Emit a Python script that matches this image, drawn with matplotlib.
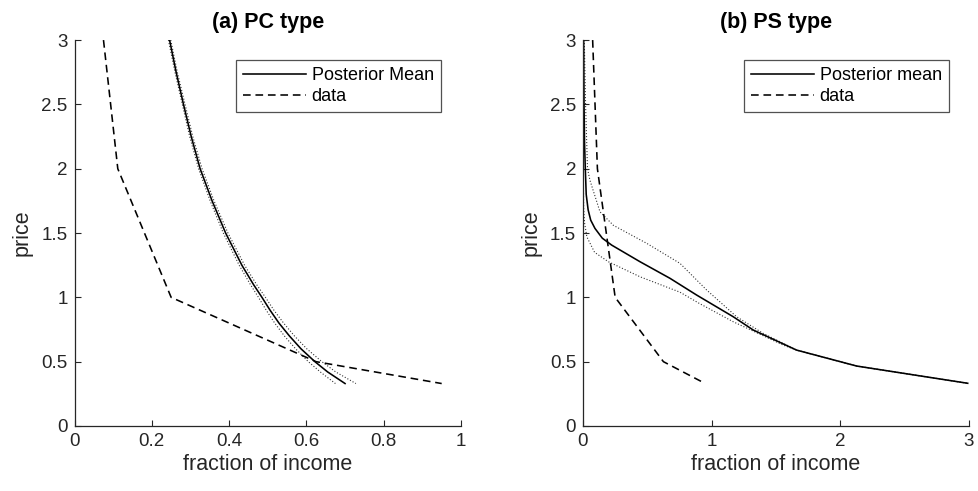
import matplotlib
matplotlib.use("Agg")
import matplotlib.pyplot as plt

plt.rcParams['font.family'] = ['Liberation Sans', 'DejaVu Sans']

# ---- data: panel (a) PC type ----
pc_price = [3.0, 2.75, 2.5, 2.25, 2.0, 1.75, 1.5, 1.25, 1.1, 1.0, 0.9, 0.8, 0.7, 0.6, 0.5, 0.42, 0.33]
pc_mean = [0.246, 0.263, 0.282, 0.302, 0.325, 0.356, 0.391, 0.433, 0.463, 0.485,
           0.506, 0.529, 0.556, 0.586, 0.622, 0.655, 0.700]
pc_lower = [0.243, 0.260, 0.279, 0.298, 0.321, 0.351, 0.385, 0.426, 0.455, 0.476,
            0.496, 0.518, 0.543, 0.572, 0.605, 0.636, 0.675]
pc_upper = [0.249, 0.266, 0.286, 0.306, 0.330, 0.361, 0.397, 0.440, 0.471, 0.494,
            0.516, 0.541, 0.569, 0.601, 0.640, 0.676, 0.728]

# ---- data: observed demand (same in both panels) ----
data_price = [3.0, 2.0, 1.0, 0.5, 0.33]
data_frac = [0.075, 0.112, 0.25, 0.625, 0.95]

# ---- data: panel (b) PS type ----
ps_mean_frac = [0.005, 0.008, 0.012, 0.018, 0.025, 0.04, 0.06, 0.093, 0.15, 0.223,
                0.443, 0.676, 0.883, 1.168, 1.323, 1.66, 2.127, 2.99]
ps_mean_price = [3.0, 2.5, 2.2, 2.0, 1.8, 1.68, 1.6, 1.536, 1.46, 1.406,
                 1.277, 1.148, 1.018, 0.849, 0.746, 0.59, 0.466, 0.332]

ps_upper_frac = [0.01, 0.02, 0.035, 0.054, 0.132, 0.236, 0.495, 0.754, 0.961, 1.194, 1.40, 1.66, 2.127, 2.99]
ps_upper_price = [3.0, 2.5, 2.0, 1.91, 1.665, 1.56, 1.42, 1.264, 1.057, 0.849, 0.72, 0.59, 0.466, 0.332]

ps_lower_frac = [0.0, 0.002, 0.005, 0.012, 0.03, 0.09, 0.197, 0.443, 0.754, 0.90, 1.168, 1.556, 1.66, 2.127, 2.99]
ps_lower_price = [3.0, 2.0, 1.7, 1.58, 1.47, 1.35, 1.277, 1.16, 1.04, 0.955, 0.81, 0.629, 0.59, 0.466, 0.332]

titles = ["(a) PC type", "(b) PS type"]
legend_labels = [["Posterior Mean", "data"], ["Posterior mean", "data"]]
xticks_a = [0, 0.2, 0.4, 0.6, 0.8, 1]
xticklabels_a = ["0", "0.2", "0.4", "0.6", "0.8", "1"]
xticks_b = [0, 1, 2, 3]
yticks = [0, 0.5, 1, 1.5, 2, 2.5, 3]
yticklabels = ["0", "0.5", "1", "1.5", "2", "2.5", "3"]

AX = '#262626'
fig = plt.figure(figsize=(9.79, 4.91), dpi=100)
axa = fig.add_axes([0.0761, 0.1324, 0.3948, 0.786])
axb = fig.add_axes([0.5955, 0.1324, 0.3943, 0.786])

dash = (0, (4.8, 3.0))
dot = (0, (1, 1.7))
lw = 1.15

# panel a
axa.plot(pc_lower, pc_price, linestyle=dot, color='#333333', lw=0.8)
axa.plot(pc_upper, pc_price, linestyle=dot, color='#333333', lw=0.8)
la1, = axa.plot(pc_mean, pc_price, '-', color='black', lw=lw)
la2, = axa.plot(data_frac, data_price, linestyle=dash, color='black', lw=lw)
axa.set_xlim(0, 1)
axa.set_xticks(xticks_a)
axa.set_xticklabels(xticklabels_a)

# panel b
axb.plot(ps_lower_frac, ps_lower_price, linestyle=dot, color='#333333', lw=0.8)
axb.plot(ps_upper_frac, ps_upper_price, linestyle=dot, color='#333333', lw=0.8)
lb1, = axb.plot(ps_mean_frac, ps_mean_price, '-', color='black', lw=lw)
lb2, = axb.plot(data_frac, data_price, linestyle=dash, color='black', lw=lw)
axb.set_xlim(0, 3)
axb.set_xticks(xticks_b)

for ax, title, labs, handles in [(axa, titles[0], legend_labels[0], (la1, la2)),
                                 (axb, titles[1], legend_labels[1], (lb1, lb2))]:
    ax.set_ylim(0, 3)
    ax.set_yticks(yticks)
    ax.set_yticklabels(yticklabels)
    for s in ['top', 'right']:
        ax.spines[s].set_visible(False)
    for s in ['left', 'bottom']:
        ax.spines[s].set_color(AX)
        ax.spines[s].set_linewidth(0.9)
    ax.tick_params(direction='in', length=4, width=0.8, colors=AX, labelsize=13.5, pad=5)
    ax.set_xlabel("fraction of income", fontsize=15.5, color=AX, labelpad=3)
    ax.set_ylabel("price", fontsize=15.5, color=AX, labelpad=6)
    ax.set_title(title, fontsize=15.5, fontweight='bold', pad=9)
    leg = ax.legend(handles, labs, loc='upper right', bbox_to_anchor=(0.948, 0.948),
                    borderaxespad=0, fontsize=13, frameon=True, fancybox=False,
                    edgecolor=AX, handlelength=3.5, handletextpad=0.3,
                    labelspacing=0.2, borderpad=0.4)
    leg.get_frame().set_linewidth(0.9)

fig.savefig("out.png", dpi=100)
